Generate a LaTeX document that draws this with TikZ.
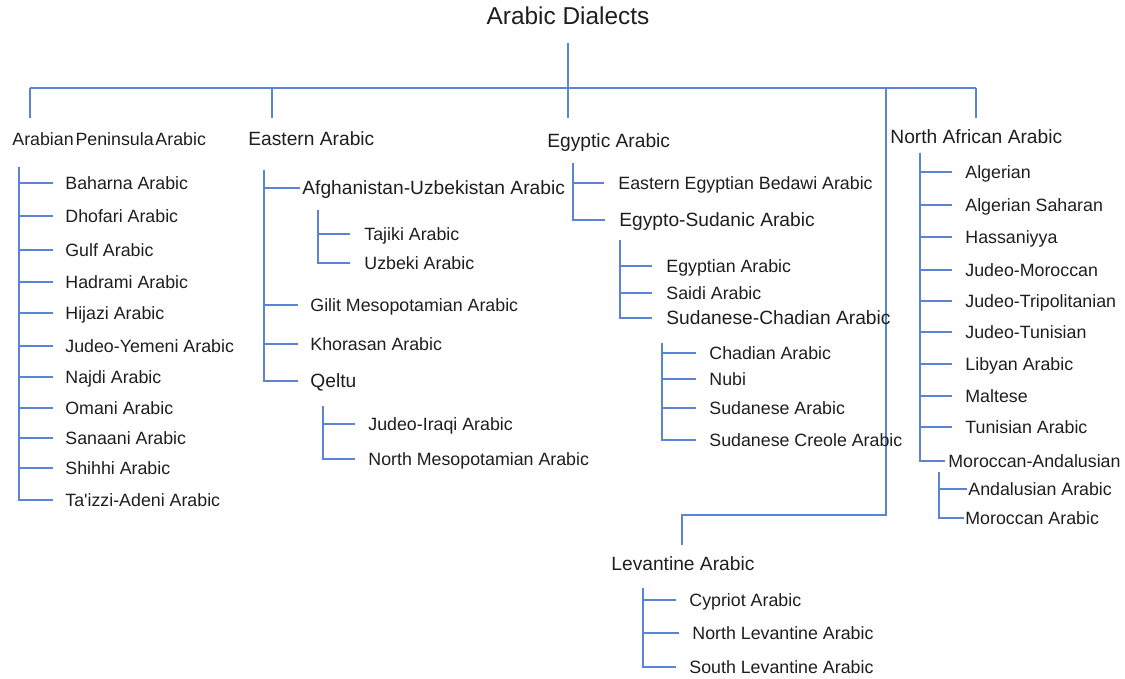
\documentclass[tikz,border=0pt]{standalone}
\usepackage{fontspec}
\setmainfont{Liberation Sans}
\usetikzlibrary{positioning, calc}
\definecolor{linkblue}{RGB}{92,132,214}
\definecolor{inkgray}{RGB}{30,30,30}

\begin{document}
\begin{tikzpicture}[x=0.5pt, y=-0.5pt,
    link/.style={draw=linkblue, line width=0.6pt},
    title/.style={inner sep=0pt, text=inkgray, font=\fontsize{12.2}{14}\selectfont, text height=8.7pt, text depth=0pt},
    group/.style={anchor=west, inner sep=0pt, text=inkgray, font=\fontsize{9.6}{11}\selectfont, text height=6.9pt, text depth=0pt},
    leaf/.style={anchor=west, inner sep=0pt, text=inkgray, font=\fontsize{8.9}{10}\selectfont, text height=6.4pt, text depth=0pt}]
        \useasboundingbox (0,0) rectangle (1125,679);

        % root and main bar
        \node[title] (dialects) at (568,16) {Arabic Dialects};
        \coordinate (bar-w) at (30,88);
        \coordinate (bar-e) at (976,88);
        \coordinate (egy-drop) at (568,118);
        \draw[link] (bar-w) -- (bar-e);
        \draw[link] ([yshift=-9pt]dialects.south) -- (egy-drop);
        \foreach \id/\xpos in {pen-drop/30, east-drop/272, nafr-drop/976}
        {
            \coordinate (\id) at (\xpos,118);
            \draw[link] (\id |- bar-w) -- (\id);
        }
        \coordinate (lev-turn) at (886,515);
        \coordinate (lev-drop) at (682,545);
        \draw[link] (lev-turn |- bar-w) -- (lev-turn) -| (lev-drop);

        % branches
        \node[leaf] (peninsula) at (12,139) {\spaceskip=0.1em\relax Arabian Peninsula Arabic};
        \node[group] (eastern) at (248,139) {Eastern Arabic};
        \node[group] (egyptic) at (547,141) {Egyptic Arabic};
        \node[group] (nafrican) at (890,137) {North African Arabic};
        \node[group] (levantine) at (611,564) {Levantine Arabic};

        % Arabian Peninsula
        \coordinate (pen-spine) at (19,167);
        \foreach \id/\ypos/\txt in {baharna/183/Baharna Arabic, dhofari/216/Dhofari Arabic, gulf/250/Gulf Arabic, hadrami/282/Hadrami Arabic, hijazi/313/Hijazi Arabic, judyemeni/346/Judeo-Yemeni Arabic, najdi/377/Najdi Arabic, omani/408/Omani Arabic, sanaani/438/Sanaani Arabic, shihhi/468/Shihhi Arabic, taizzi/500/Ta\textquotesingle izzi-Adeni Arabic}
        {
            \node[leaf] (\id) at (65,\ypos) {\txt};
            \draw[link] (pen-spine) |- ([xshift=-6pt]\id.west);
        }

        % Eastern
        \coordinate (east-spine) at (264,170);
        \node[group] (afuz) at (302,188) {Afghanistan-Uzbekistan Arabic};
        \draw[link] (east-spine) |- ([xshift=-1pt]afuz.west);
        \foreach \id/\ypos/\txt in {gilit/305/Gilit Mesopotamian Arabic, khorasan/344/Khorasan Arabic}
        {
            \node[leaf] (\id) at (310,\ypos) {\txt};
            \draw[link] (east-spine) |- ([xshift=-6pt]\id.west);
        }
        \node[group] (qeltu) at (310,381) {Qeltu};
        \draw[link] (east-spine) |- ([xshift=-6pt]qeltu.west);

        \coordinate (afuz-spine) at (318,210);
        \foreach \id/\ypos/\txt in {tajiki/234/Tajiki Arabic, uzbeki/263/Uzbeki Arabic}
        {
            \node[leaf] (\id) at (364,\ypos) {\txt};
            \draw[link] (afuz-spine) |- ([xshift=-7pt]\id.west);
        }
        \coordinate (qeltu-spine) at (323,406);
        \foreach \id/\ypos/\txt in {judiraqi/424/Judeo-Iraqi Arabic, nmesop/459/North Mesopotamian Arabic}
        {
            \node[leaf] (\id) at (368,\ypos) {\txt};
            \draw[link] (qeltu-spine) |- ([xshift=-6.5pt]\id.west);
        }

        % Egyptic
        \coordinate (egy-spine) at (573,163);
        \node[leaf] (bedawi) at (618,183) {Eastern Egyptian Bedawi Arabic};
        \node[group] (egsud) at (619,220) {Egypto-Sudanic Arabic};
        \draw[link] (egy-spine) |- ([xshift=-7pt]bedawi.west);
        \draw[link] (egy-spine) |- ([xshift=-7pt]egsud.west);

        \coordinate (egsud-spine) at (620,240);
        \foreach \id/\ypos/\txt in {egyptian/266/Egyptian Arabic, saidi/293/Saidi Arabic}
        {
            \node[leaf] (\id) at (666,\ypos) {\txt};
            \draw[link] (egsud-spine) |- ([xshift=-7pt]\id.west);
        }
        \node[group] (sudchad) at (666,318) {Sudanese-Chadian Arabic};
        \draw[link] (egsud-spine) |- ([xshift=-7pt]sudchad.west);

        \coordinate (sudchad-spine) at (662,343);
        \foreach \id/\ypos/\txt in {chadian/353/Chadian Arabic, nubi/379/Nubi, sudanese/408/Sudanese Arabic, creole/440/Sudanese Creole Arabic}
        {
            \node[leaf] (\id) at (709,\ypos) {\txt};
            \draw[link] (sudchad-spine) |- ([xshift=-6.5pt]\id.west);
        }

        % North African
        \coordinate (nafr-spine) at (920,153);
        \foreach \id/\ypos/\txt in {algerian/172/Algerian, saharan/205/Algerian Saharan, hassaniyya/237/Hassaniyya, judmoroccan/270/Judeo-Moroccan, judtripoli/301/Judeo-Tripolitanian, judtunisian/332/Judeo-Tunisian, libyan/364/Libyan Arabic, maltese/396/Maltese, tunisian/427/Tunisian Arabic}
        {
            \node[leaf] (\id) at (965,\ypos) {\txt};
            \draw[link] (nafr-spine) |- ([xshift=-6.5pt]\id.west);
        }
        \node[leaf] (morand) at (948,461) {Moroccan-Andalusian};
        \draw[link] (nafr-spine) |- ([xshift=-1.5pt]morand.west);

        \coordinate (morand-spine) at (939,472);
        \node[leaf] (andalusian) at (968,489) {Andalusian Arabic};
        \node[leaf] (moroccan) at (965,518) {Moroccan Arabic};
        \draw[link] (morand-spine) |- ([xshift=-0.5pt]andalusian.west);
        \draw[link] (morand-spine) |- ([xshift=-0.5pt]moroccan.west);

        % Levantine
        \coordinate (lev-spine) at (643,588);
        \foreach \id/\xpos/\ypos/\txt in {cypriot/689/600/Cypriot Arabic, nlevant/692/633/North Levantine Arabic, slevant/689/667/South Levantine Arabic}
        {
            \node[leaf] (\id) at (\xpos,\ypos) {\txt};
            \draw[link] (lev-spine) |- ([xshift=-6.5pt]\id.west);
        }
\end{tikzpicture}
\end{document}
